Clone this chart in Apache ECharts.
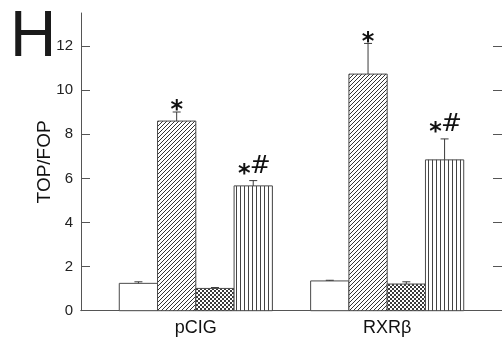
<!DOCTYPE html>
<html><head><meta charset="utf-8">
<script src="https://cdn.jsdelivr.net/npm/echarts@6/dist/echarts.min.js"></script>
<style>html,body{margin:0;padding:0;background:#fff}#c{width:502px;height:342px}</style>
</head><body><div id="c"></div>
<script>
const categories = ['pCIG', 'RXRβ'];
const categoryPositions = [1, 2];
const controlValues = [1.24, 1.35];
const controlErrors = [0.07, 0.03];
const diagValues = [8.6, 10.73];
const diagErrors = [0.41, 1.39];
const crossValues = [1.01, 1.21];
const crossErrors = [0.04, 0.1];
const vertValues = [5.66, 6.84];
const vertErrors = [0.24, 0.95];
const controlMarks = ['', ''];
const diagMarks = ['*', '*'];
const crossMarks = ['', ''];
const vertMarks = ['*#', '*#'];
const yTicks = [0, 2, 4, 6, 8, 10, 12];

function makePattern(kind) {
  const c = document.createElement('canvas');
  const ctx = c.getContext('2d');
  if (kind === 'diag') {
    c.width = 4; c.height = 4;
    ctx.fillStyle = '#fff'; ctx.fillRect(0, 0, 4, 4);
    ctx.strokeStyle = '#333'; ctx.lineWidth = 1;
    ctx.beginPath();
    ctx.moveTo(-1, 5); ctx.lineTo(5, -1);
    ctx.moveTo(-1, 1); ctx.lineTo(1, -1);
    ctx.moveTo(3, 5); ctx.lineTo(5, 3);
    ctx.stroke();
  } else if (kind === 'cross') {
    c.width = 4; c.height = 4;
    ctx.fillStyle = '#fff'; ctx.fillRect(0, 0, 4, 4);
    ctx.fillStyle = '#3a3a3a';
    ctx.fillRect(0, 0, 2, 2); ctx.fillRect(2, 2, 2, 2);
  } else if (kind === 'vert') {
    c.width = 4; c.height = 4;
    ctx.fillStyle = '#fff'; ctx.fillRect(0, 0, 4, 4);
    ctx.fillStyle = '#444';
    ctx.fillRect(0, 0, 1, 4);
  } else {
    return '#fff';
  }
  return { image: c, repeat: 'repeat' };
}

const FONT = "'Liberation Sans', Arial, sans-serif";
const MARKFONT = "'DejaVu Sans', sans-serif";

function barSeries(name, values, errors, marks, slot, kind) {
  const fill = makePattern(kind);
  return {
    type: 'custom',
    name: name,
    xAxisIndex: 0, yAxisIndex: 0,
    data: values.map((v, i) => [categoryPositions[i], v, errors[i]]),
    renderItem: function (params, api) {
      const x = api.value(0), v = api.value(1), e = api.value(2);
      const unit = api.size([1, 0])[0];
      const top = api.coord([x, v]);
      const base = api.coord([x, 0]);
      const cap = api.coord([x, v + e]);
      const w = 0.2 * unit;
      const left = top[0] + (-0.4 + 0.2 * slot) * unit;
      const cx = left + w / 2;
      const children = [
        { type: 'rect', shape: { x: left, y: top[1], width: w, height: base[1] - top[1] },
          style: { fill: fill, stroke: '#4a4a4a', lineWidth: 1 } },
        { type: 'line', shape: { x1: cx, y1: top[1], x2: cx, y2: cap[1] },
          style: { stroke: '#3a3a3a', lineWidth: 1 } },
        { type: 'line', shape: { x1: cx - 4, y1: cap[1], x2: cx + 4, y2: cap[1] },
          style: { stroke: '#3a3a3a', lineWidth: 1 } }
      ];
      const m = marks[params.dataIndex];
      if (m === '*') {
        children.push({ type: 'text', style: { text: '*', x: cx, y: cap[1] - 1, align: 'center', verticalAlign: 'middle',
          font: 'bold 24px ' + MARKFONT, fill: '#111' } });
      } else if (m === '*#') {
        children.push({ type: 'text', style: { text: '*', x: cx - 9, y: cap[1] - 6, align: 'center', verticalAlign: 'middle',
          font: 'bold 24px ' + MARKFONT, fill: '#111' } });
        children.push({ type: 'text', style: { text: '#', x: cx + 7, y: cap[1] - 14, align: 'center', verticalAlign: 'middle',
          font: '25px ' + MARKFONT, fill: '#111' } });
      }
      return { type: 'group', children: children };
    }
  };
}

const chart = echarts.init(document.getElementById('c'), null, { renderer: 'canvas' });
chart.setOption({
  animation: false,
  backgroundColor: '#fff',
  title: { text: 'H', left: 10, top: 6, padding: 0,
    textStyle: { fontSize: 64, fontWeight: 'normal', fontFamily: FONT, color: '#1a1a1a' } },
  grid: { left: 81, top: 13, width: 424.6, height: 297.7, containLabel: false },
  xAxis: [
    { type: 'value', min: 0.4, max: 2.6, position: 'bottom',
      axisLine: { show: true, lineStyle: { color: '#555', width: 1 } },
      axisTick: { show: false }, splitLine: { show: false },
      axisLabel: { customValues: categoryPositions, formatter: v => categories[categoryPositions.indexOf(v)],
        fontSize: 18, color: '#111', fontFamily: FONT, margin: 8 } },
    { type: 'value', min: 0.4, max: 2.6, position: 'top',
      axisLine: { show: true, lineStyle: { color: '#555', width: 1 } },
      axisTick: { show: false }, splitLine: { show: false }, axisLabel: { show: false } }
  ],
  yAxis: [
    { type: 'value', min: 0, max: 13.5, position: 'left',
      name: 'TOP/FOP', nameLocation: 'middle', nameGap: 27, nameMoveOverlap: false,
      nameTextStyle: { fontSize: 19, color: '#111', fontFamily: FONT },
      axisLine: { show: true, lineStyle: { color: '#555', width: 1 } },
      axisTick: { show: true, inside: true, length: 9, customValues: yTicks, lineStyle: { color: '#555' } },
      splitLine: { show: false },
      axisLabel: { customValues: yTicks, fontSize: 15, color: '#222', fontFamily: FONT, margin: 8 } },
    { type: 'value', min: 0, max: 13.5, position: 'right',
      axisLine: { show: true, lineStyle: { color: '#555', width: 1 } },
      axisTick: { show: true, inside: true, length: 9, customValues: yTicks, lineStyle: { color: '#555' } },
      splitLine: { show: false }, axisLabel: { show: false } }
  ],
  series: [
    barSeries('Control', controlValues, controlErrors, controlMarks, 0, 'none'),
    barSeries('Diagonal', diagValues, diagErrors, diagMarks, 1, 'diag'),
    barSeries('Cross', crossValues, crossErrors, crossMarks, 2, 'cross'),
    barSeries('Vertical', vertValues, vertErrors, vertMarks, 3, 'vert')
  ]
});
</script></body></html>
